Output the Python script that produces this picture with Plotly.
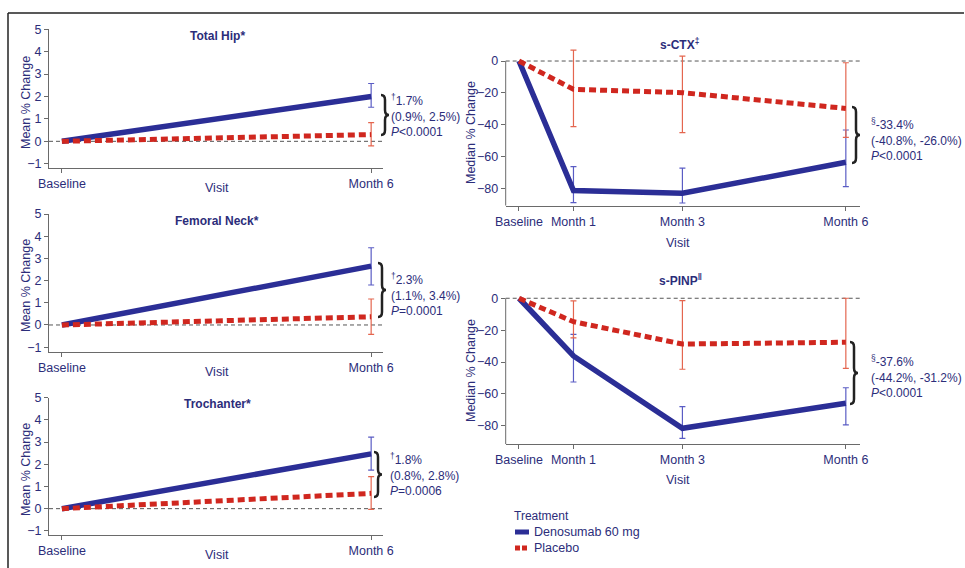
import numpy as np
import plotly.graph_objects as go

W, H = 965, 568
nan = np.nan

# ---------------- data ----------------
bmd_months = [0, 6]
bmd_labels = ["Baseline", "Month 6"]
mk_months = [0, 1, 3, 6]
mk_labels = ["Baseline", "Month 1", "Month 3", "Month 6"]

hip_deno = [0.0, 2.0]
hip_deno_hi = [nan, 2.58]
hip_deno_lo = [nan, 1.52]
hip_plac = [0.0, 0.3]
hip_plac_hi = [nan, 0.83]
hip_plac_lo = [nan, -0.2]

neck_deno = [0.0, 2.65]
neck_deno_hi = [nan, 3.48]
neck_deno_lo = [nan, 1.8]
neck_plac = [0.0, 0.37]
neck_plac_hi = [nan, 1.17]
neck_plac_lo = [nan, -0.42]

troch_deno = [0.0, 2.47]
troch_deno_hi = [nan, 3.22]
troch_deno_lo = [nan, 1.74]
troch_plac = [0.0, 0.69]
troch_plac_hi = [nan, 1.44]
troch_plac_lo = [nan, -0.03]

ctx_deno = [0.0, -81.5, -83.2, -63.7]
ctx_deno_hi = [nan, -66.4, -67.4, -43.4]
ctx_deno_lo = [nan, -89.1, -89.3, -79.0]
ctx_plac = [0.0, -17.8, -19.9, -29.8]
ctx_plac_hi = [nan, 6.9, 3.1, -1.1]
ctx_plac_lo = [nan, -41.3, -45.1, -48.0]

pinp_deno = [0.0, -36.2, -81.5, -65.8]
pinp_deno_hi = [nan, -22.6, -68.0, -56.1]
pinp_deno_lo = [nan, -52.5, -87.8, -79.4]
pinp_plac = [0.0, -14.7, -28.7, -27.6]
pinp_plac_hi = [nan, -1.7, -1.5, 0.0]
pinp_plac_lo = [nan, -24.9, -44.5, -43.9]

panel_titles = ["Total Hip*", "Femoral Neck*", "Trochanter*",
                "s-CTX<sup>‡</sup>", "s-PINP<sup>‖</sup>"]
stats_text = [
    "<sup>†</sup>1.7%<br>(0.9%, 2.5%)<br><i>P</i>&lt;0.0001",
    "<sup>†</sup>2.3%<br>(1.1%, 3.4%)<br><i>P</i>=0.0001",
    "<sup>†</sup>1.8%<br>(0.8%, 2.8%)<br><i>P</i>=0.0006",
    "<sup>§</sup>-33.4%<br>(-40.8%, -26.0%)<br><i>P</i>&lt;0.0001",
    "<sup>§</sup>-37.6%<br>(-44.2%, -31.2%)<br><i>P</i>&lt;0.0001",
]
series_names = ["Denosumab 60 mg", "Placebo"]

# ---------------- styles ----------------
FONT = "Liberation Sans, Arial, sans-serif"
NAVY = "#2c2d7a"
BLUE = "#2b2e96"
RED = "#d0271f"
BLUE_ERR = "#5a5cc4"
RED_ERR = "#e4664f"
AXC = "#6a6a6a"


def px(x):
    return x / W


def py(y):
    return 1 - y / H


fig = go.Figure()

panels = [
    (bmd_months, hip_deno, hip_deno_hi, hip_deno_lo, hip_plac, hip_plac_hi, hip_plac_lo),
    (bmd_months, neck_deno, neck_deno_hi, neck_deno_lo, neck_plac, neck_plac_hi, neck_plac_lo),
    (bmd_months, troch_deno, troch_deno_hi, troch_deno_lo, troch_plac, troch_plac_hi, troch_plac_lo),
    (mk_months, ctx_deno, ctx_deno_hi, ctx_deno_lo, ctx_plac, ctx_plac_hi, ctx_plac_lo),
    (mk_months, pinp_deno, pinp_deno_hi, pinp_deno_lo, pinp_plac, pinp_plac_hi, pinp_plac_lo),
]


def err(vals, hi, lo):
    v = np.array(vals, dtype=float)
    return dict(type="data", symmetric=False,
                array=np.array(hi, dtype=float) - v,
                arrayminus=v - np.array(lo, dtype=float),
                thickness=1.2, width=3)


for i, (xm, d, dhi, dlo, p, phi, plo) in enumerate(panels):
    ax = "" if i == 0 else str(i + 1)
    e1 = err(d, dhi, dlo)
    e1["color"] = BLUE_ERR
    fig.add_trace(go.Scatter(x=xm, y=d, mode="lines", name=series_names[0],
                             line=dict(color=BLUE, width=5.5), error_y=e1,
                             xaxis="x" + ax, yaxis="y" + ax, showlegend=False,
                             cliponaxis=False))
    e2 = err(p, phi, plo)
    e2["color"] = RED_ERR
    fig.add_trace(go.Scatter(x=xm, y=p, mode="lines", name=series_names[1],
                             line=dict(color=RED, width=5, dash="7px,4px"), error_y=e2,
                             xaxis="x" + ax, yaxis="y" + ax, showlegend=False,
                             cliponaxis=False))

# ---------------- axes ----------------
left_xdom = [px(49), px(383)]
right_xdom = [px(505.7), px(860)]
ydoms = [
    [py(168.2), py(29.3)],
    [py(351.6), py(214)],
    [py(535.3), py(397.7)],
    [py(205.7), py(48.3)],
    [py(444.2), py(285.5)],
]
yranges = [[-1.2, 5], [-1.2, 5], [-1.2, 5], [-91, 8], [-91.5, 8]]

tickfont = dict(family=FONT, size=12.5, color=NAVY)
layout = {}
for i in range(5):
    ax = "" if i == 0 else str(i + 1)
    left = i < 3
    layout["xaxis" + ax] = dict(
        domain=left_xdom if left else right_xdom,
        range=[-0.25, 6.23] if left else [-0.244, 6.26],
        anchor="y" + ax, showgrid=False, zeroline=False, automargin=False,
        showline=True, linecolor=AXC, linewidth=1,
        ticks="outside", ticklen=4, tickcolor=AXC,
        tickvals=bmd_months if left else mk_months,
        ticktext=bmd_labels if left else mk_labels,
        tickfont=tickfont, fixedrange=True,
    )
    layout["yaxis" + ax] = dict(
        domain=ydoms[i], range=yranges[i], anchor="x" + ax,
        showgrid=False, zeroline=False, automargin=False,
        showline=left, linecolor=AXC, linewidth=1,
        ticks="outside", ticklen=4, tickcolor=AXC,
        tickvals=[-1, 0, 1, 2, 3, 4, 5] if left else [0, -20, -40, -60, -80],
        tickfont=tickfont, fixedrange=True,
    )

shapes = []
annotations = []

for i in range(5):
    ax = "" if i == 0 else str(i + 1)
    shapes.append(dict(type="line", xref="x" + ax + " domain", yref="y" + ax,
                       x0=0, x1=1, y0=0, y1=0,
                       line=dict(color="#555555", width=1, dash="4px,3px"), layer="below"))
    if i >= 3:
        shapes.append(dict(type="line", xref="x" + ax + " domain", yref="y" + ax,
                           x0=0, x1=0, y0=yranges[i][0], y1=0,
                           line=dict(color=AXC, width=1)))

# frame
shapes.append(dict(type="line", xref="paper", yref="paper", x0=px(8), x1=px(8),
                   y0=py(13), y1=0, line=dict(color="#222222", width=1.5)))
shapes.append(dict(type="line", xref="paper", yref="paper", x0=px(8), x1=px(964),
                   y0=py(13), y1=py(13), line=dict(color="#222222", width=1.5)))


def brace(xl, top, bot, w=8):
    m = (top + bot) / 2
    r = 5
    xm = xl + w / 2
    pts = [
        f"M {px(xl)},{py(top)}",
        f"Q {px(xm)},{py(top)} {px(xm)},{py(top + r)}",
        f"L {px(xm)},{py(m - r)}",
        f"Q {px(xm)},{py(m)} {px(xl + w)},{py(m)}",
        f"Q {px(xm)},{py(m)} {px(xm)},{py(m + r)}",
        f"L {px(xm)},{py(bot - r)}",
        f"Q {px(xm)},{py(bot)} {px(xl)},{py(bot)}",
    ]
    return dict(type="path", xref="paper", yref="paper", path=" ".join(pts),
                line=dict(color="#222222", width=2.5))


brace_pos = [(381, 95, 135), (378, 263, 317), (374, 452, 497), (852, 107, 163), (850, 342, 404)]
stats_pos = [(389, 115), (389, 294), (388, 474), (869, 139), (869, 376)]
for (xl, t, b) in brace_pos:
    shapes.append(brace(xl, t, b))
for txt, (x, y) in zip(stats_text, stats_pos):
    annotations.append(dict(text=txt, xref="paper", yref="paper", x=px(x), y=py(y),
                            xanchor="left", yanchor="middle", align="left", showarrow=False,
                            font=dict(family=FONT, size=12, color=NAVY)))

title_pos = [(217, 36), (217, 221), (217, 404), (680, 44), (680, 280)]
for t, (x, y) in zip(panel_titles, title_pos):
    annotations.append(dict(text="<b>" + t + "</b>", xref="paper", yref="paper",
                            x=px(x), y=py(y), xanchor="center", yanchor="middle",
                            showarrow=False, font=dict(family=FONT, size=12, color=NAVY)))

visit_pos = [(217, 188), (217, 372), (217, 555), (678, 243), (678, 480)]
for (x, y) in visit_pos:
    annotations.append(dict(text="Visit", xref="paper", yref="paper", x=px(x), y=py(y),
                            xanchor="center", yanchor="middle", showarrow=False,
                            font=dict(family=FONT, size=12.5, color=NAVY)))
ytitle_pos = [(26, 103, "Mean % Change"), (26, 286, "Mean % Change"), (26, 470, "Mean % Change"),
              (471, 133, "Median % Change"), (471, 371, "Median % Change")]
for (x, y, t) in ytitle_pos:
    annotations.append(dict(text=t, xref="paper", yref="paper", x=px(x), y=py(y),
                            xanchor="center", yanchor="middle", textangle=-90, showarrow=False,
                            font=dict(family=FONT, size=12.5, color=NAVY)))

# legend
annotations.append(dict(text="Treatment", xref="paper", yref="paper", x=px(512), y=py(516),
                        xanchor="left", yanchor="middle", showarrow=False,
                        font=dict(family=FONT, size=12, color=NAVY)))
shapes.append(dict(type="line", xref="paper", yref="paper", x0=px(515), x1=px(529),
                   y0=py(532), y1=py(532), line=dict(color=BLUE, width=5)))
shapes.append(dict(type="line", xref="paper", yref="paper", x0=px(515), x1=px(529),
                   y0=py(548), y1=py(548), line=dict(color=RED, width=5, dash="5px,2px")))
for name, y in zip(series_names, [532, 548]):
    annotations.append(dict(text=name, xref="paper", yref="paper", x=px(532), y=py(y),
                            xanchor="left", yanchor="middle", showarrow=False,
                            font=dict(family=FONT, size=12.5, color=NAVY)))

fig.update_layout(
    template="none",
    width=W, height=H, margin=dict(l=0, r=0, t=0, b=0, pad=0),
    paper_bgcolor="white", plot_bgcolor="white",
    font=dict(family=FONT, color=NAVY),
    shapes=shapes, annotations=annotations, showlegend=False,
    **layout,
)

fig.write_html("out.html", config={"displayModeBar": False},
               post_script="document.body.style.margin='0';document.body.style.overflow='hidden';")
